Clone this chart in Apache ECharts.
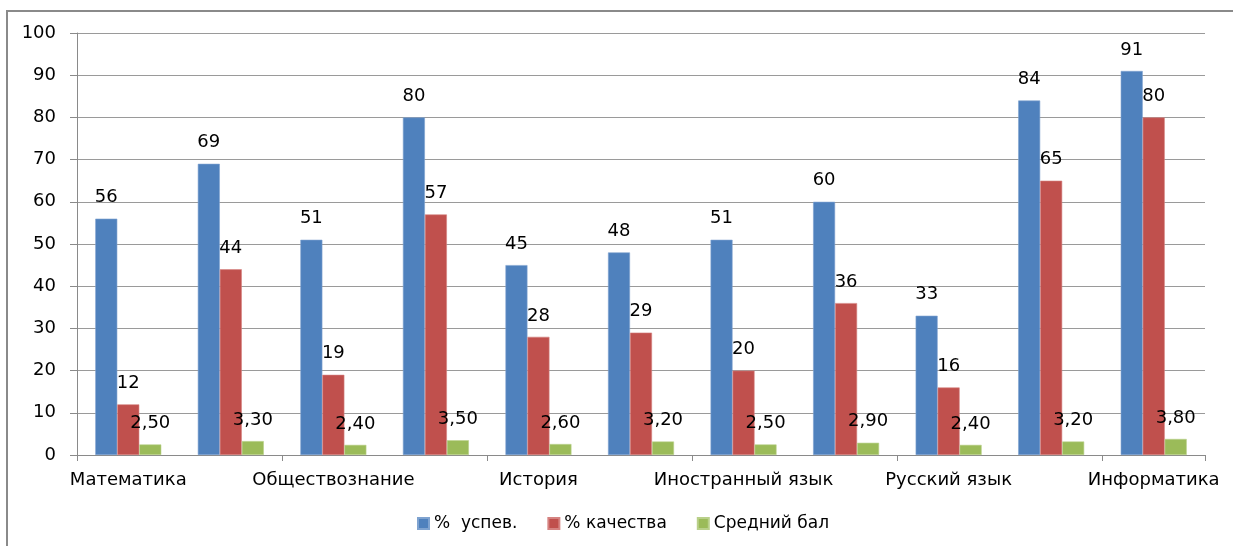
<!DOCTYPE html>
<html><head><meta charset="utf-8">
<script src="https://cdn.jsdelivr.net/npm/echarts@6/dist/echarts.min.js"></script>
<style>html,body{margin:0;padding:0;background:#fff}#c{width:1233px;height:546px}</style>
</head><body><div id="c"></div>
<script>
const categories = ['Математика','Физика','Обществознание','Химия','История','Биология','Иностранный язык','География','Русский язык','Литература','Информатика'];
const uspev = [56, 69, 51, 80, 45, 48, 51, 60, 33, 84, 91];
const kachestvo = [12, 44, 19, 57, 28, 29, 20, 36, 16, 65, 80];
const sredniy = [2.5, 3.3, 2.4, 3.5, 2.6, 3.2, 2.5, 2.9, 2.4, 3.2, 3.8];
const seriesNames = ['%  успев.', '% качества', 'Средний бал'];
const yTicks = [0, 10, 20, 30, 40, 50, 60, 70, 80, 90, 100];

const FONT = 'DejaVu Sans';
const FS = 18;
const chart = echarts.init(document.getElementById('c'));
const lbl = (fmt) => ({show: true, position: 'top', distance: 12, color: '#000', fontFamily: FONT, fontSize: FS, formatter: fmt});
chart.setOption({
  animation: false,
  textStyle: {fontFamily: FONT},
  graphic: [{type: 'rect', shape: {x: 7, y: 11, width: 1260, height: 580}, style: {fill: 'none', stroke: '#8a8a8a', lineWidth: 2}, z: 0}],
  grid: {left: 77, right: 28, top: 33, bottom: 91},
  legend: {
    bottom: 9, left: 412, itemWidth: 11, itemHeight: 11, itemGap: 30,
    textStyle: {fontFamily: FONT, fontSize: 17, color: '#000'},
    icon: 'rect',
    data: seriesNames
  },
  xAxis: {
    type: 'category', data: categories,
    axisLine: {lineStyle: {color: '#8a8a8a', width: 1}},
    axisTick: {show: true, length: 6, lineStyle: {color: '#8a8a8a'}},
    axisLabel: {interval: 1, color: '#000', fontFamily: FONT, fontSize: FS, margin: 16}
  },
  yAxis: {
    type: 'value', min: yTicks[0], max: yTicks[yTicks.length - 1], interval: 10,
    axisLine: {show: true, lineStyle: {color: '#8a8a8a'}},
    axisTick: {show: true, length: 7, lineStyle: {color: '#8a8a8a'}},
    axisLabel: {color: '#000', fontFamily: FONT, fontSize: FS, margin: 21},
    splitLine: {lineStyle: {color: '#9a9a9a', width: 1}}
  },
  series: [
    {name: seriesNames[0], type: 'bar', data: uspev, barWidth: 22, barGap: '0%',
      itemStyle: {color: '#4F81BD', borderColor: '#7fa3d0', borderWidth: 0.6}, label: lbl('{c}')},
    {name: seriesNames[1], type: 'bar', data: kachestvo, barWidth: 22, barGap: '0%',
      itemStyle: {color: '#C0504D', borderColor: '#d58381', borderWidth: 0.6}, label: lbl('{c}')},
    {name: seriesNames[2], type: 'bar', data: sredniy, barWidth: 22, barGap: '0%',
      itemStyle: {color: '#9BBB59', borderColor: '#b9d08a', borderWidth: 0.6},
      label: lbl(p => p.value.toFixed(2).replace('.', ','))}
  ]
});
</script></body></html>
